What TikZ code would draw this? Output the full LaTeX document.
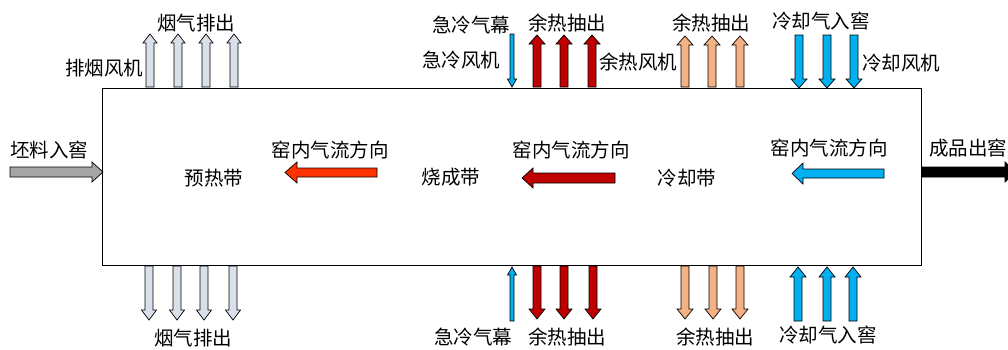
\documentclass[tikz,border=0pt]{standalone}
\usepackage{fontspec}
\newfontfamily\cjk{Noto Sans CJK SC}
\definecolor{exh}{RGB}{218,224,234}
\definecolor{cblue}{RGB}{0,176,240}
\definecolor{dred}{RGB}{192,0,0}
\definecolor{peach}{RGB}{244,177,131}
\definecolor{rawgray}{RGB}{166,166,166}
\definecolor{flame}{RGB}{255,51,0}
% vertical block arrow: x, ytail, ytip, half shaft, half head, head length, fill
\newcommand\varr[7]{%
  \pgfmathsetmacro\dirs{(#3>#2)?1:-1}%
  \pgfmathsetmacro\yb{#3-\dirs*#6}%
  \filldraw[blk,fill=#7] (#1-#4,#2) -- (#1-#4,\yb) -- (#1-#5,\yb) -- (#1,#3) -- (#1+#5,\yb) -- (#1+#4,\yb) -- (#1+#4,#2) -- cycle;}
% horizontal block arrow: y, xtail, xtip, half shaft, half head, head length, fill
\newcommand\harr[7]{%
  \pgfmathsetmacro\dirs{(#3>#2)?1:-1}%
  \pgfmathsetmacro\xb{#3-\dirs*#6}%
  \filldraw[blk,fill=#7] (#2,#1-#4) -- (\xb,#1-#4) -- (\xb,#1-#5) -- (#3,#1) -- (\xb,#1+#5) -- (\xb,#1+#4) -- (#2,#1+#4) -- cycle;}
\begin{document}
\begin{tikzpicture}[x=1pt,y=-1pt,
  blk/.style={draw=black,line width=0.7pt,line join=miter},
  lbl/.style={font=\cjk\fontsize{19.5}{22}\selectfont,inner sep=0pt,anchor=center}]
\useasboundingbox (0,0) rectangle (1008,349);
\clip (0,0) rectangle (1008,349);
\fill[white] (0,0) rectangle (1008,349);
% kiln body
\draw[line width=1pt] (102,88) rectangle (921,265);
% top arrows
\foreach \x in {150,178,206,234} {\varr{\x}{87}{34}{4}{7}{9}{exh}}
\varr{512}{34}{87}{2}{4.5}{8}{cblue}
\foreach \x in {537,564,592} {\varr{\x}{87}{35}{4}{8}{9}{dred}}
\foreach \x in {685,712,740} {\varr{\x}{87}{36}{4}{8}{9}{peach}}
\foreach \x in {799,827,854} {\varr{\x}{35}{88}{4}{8}{9}{cblue}}
% bottom arrows
\foreach \x in {149,177,204,233} {\varr{\x}{266}{320}{4}{7.5}{10}{exh}}
\varr{512}{321}{267}{2}{4.5}{8}{cblue}
\foreach \x in {537,564,593} {\varr{\x}{266}{319}{4}{8}{10}{dred}}
\foreach \x in {685,713,740} {\varr{\x}{266}{319}{4}{8}{10}{peach}}
\foreach \x in {798,827,853} {\varr{\x}{321}{267}{4}{8}{10}{cblue}}
% horizontal arrows
\harr{172}{10}{103}{5}{10}{11}{rawgray}
\harr{172.5}{377}{285}{4.5}{10.5}{12}{flame}
\harr{178}{615}{522}{5}{10}{11}{dred}
\harr{173.5}{884}{792}{4.5}{10.5}{11}{cblue}
\harr{172}{922}{1016}{5}{10}{11}{black}
% labels
\node[lbl] (t1) at (196,23) {烟气排出};
\node[lbl] (t2) at (104,68) {排烟风机};
\node[lbl] (t3) at (471,25) {急冷气幕};
\node[lbl] (t4) at (461,60) {急冷风机};
\node[lbl] (t5) at (567,23) {余热抽出};
\node[lbl] (t6) at (638,62) {余热风机};
\node[lbl] (t7) at (711,23) {余热抽出};
\node[lbl] (t8) at (821,21) {冷却气入窖};
\node[lbl] (t9) at (901,63) {冷却风机};
\node[lbl] (m1) at (49,150) {坯料入窖};
\node[lbl] (m2) at (214,178) {预热带};
\node[lbl] (m3) at (330,150) {窑内气流方向};
\node[lbl] (m4) at (451,177) {烧成带};
\node[lbl] (m5) at (571,150) {窑内气流方向};
\node[lbl] (m6) at (687,178) {冷却带};
\node[lbl] (m7) at (829,148) {窑内气流方向};
\node[lbl] (m8) at (968,148) {成品出窖};
\node[lbl] (b1) at (193,338) {烟气排出};
\node[lbl] (b2) at (473,337) {急冷气幕};
\node[lbl] (b3) at (567,337) {余热抽出};
\node[lbl] (b4) at (715,337) {余热抽出};
\node[lbl] (b5) at (828,335) {冷却气入窖};
\end{tikzpicture}
\end{document}
